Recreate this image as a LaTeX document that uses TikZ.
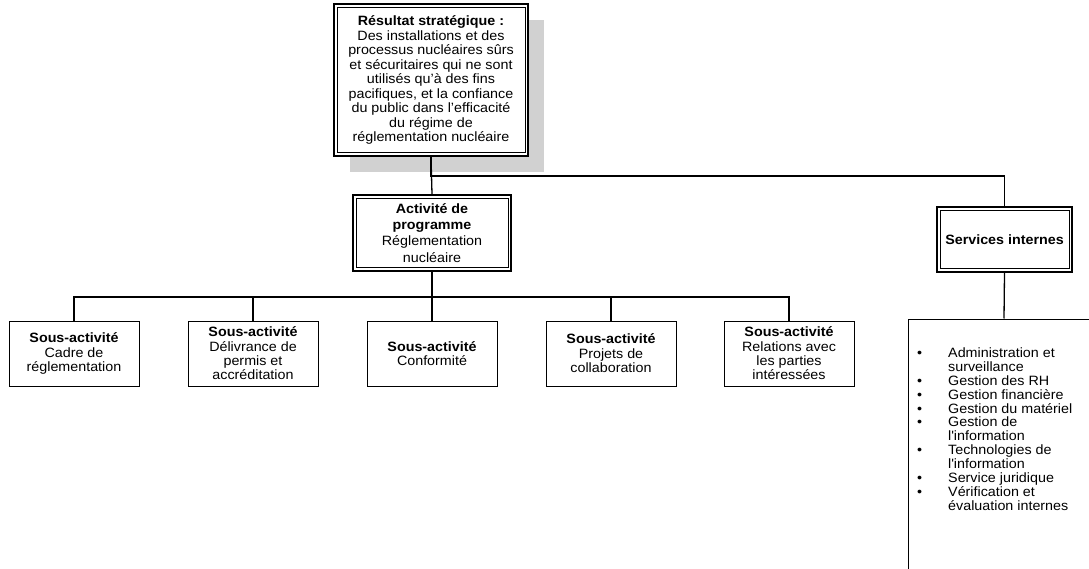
\documentclass[tikz,border=0pt]{standalone}
\usepackage{fontspec}
\setmainfont{Liberation Sans}[FakeStretch=1.06]
\usetikzlibrary{shadows}
\newcommand{\innerframe}[1]{%
  \draw[line width=0.8pt] ([xshift=4pt,yshift=-4pt]#1.north west) rectangle ([xshift=-4pt,yshift=4pt]#1.south east);}
\tikzset{
  conn/.style={draw=black, line width=1.3pt},
  dbl/.style={draw=black, line width=1.8pt, fill=white, inner sep=0pt, align=center,
              font=\fontsize{13.5}{14.5}\selectfont},
  subbox/.style={draw=black, line width=1pt, fill=white, inner sep=0pt, align=center,
                 minimum width=130, minimum height=65, font=\fontsize{13.5}{14.4}\selectfont},
  listbox/.style={draw=black, line width=1pt, inner sep=0pt, minimum width=192, minimum height=300}
}
\begin{document}
\begin{tikzpicture}[x=1pt,y=-1pt]
\useasboundingbox (0,0) rectangle (1089,569);
\clip (0,0) rectangle (1089,569);

% top box with shadow
\node[dbl, minimum width=194, minimum height=152,
      drop shadow={shadow xshift=16pt, shadow yshift=-16pt, fill=black!18, opacity=1}]
  (top) at (431,80) {\textbf{Résultat stratégique :}\\Des installations et des\\processus nucléaires sûrs\\et sécuritaires qui ne sont\\utilisés qu’à des fins\\pacifiques, et la confiance\\du public dans l’efficacité\\du régime de\\réglementation nucléaire};
\innerframe{top}

% programme activity
\node[dbl, minimum width=158, minimum height=76, font=\fontsize{13.5}{16.2}\selectfont]
  (act) at (432,233) {\textbf{Activité de}\\\textbf{programme}\\Réglementation\\nucléaire};
\innerframe{act}

% internal services
\node[dbl, minimum width=135, minimum height=65] (svc) at (1004.5,239.5) {\textbf{Services internes}};
\innerframe{svc}

% sub-activities
\node[subbox] (s1) at (74,353.5)  {\textbf{Sous-activité}\\Cadre de\\réglementation};
\node[subbox] (s2) at (253,353.5) {\textbf{Sous-activité}\\Délivrance de\\permis et\\accréditation};
\node[subbox] (s3) at (432,353.5) {\textbf{Sous-activité}\\Conformité};
\node[subbox] (s4) at (611,353.5) {\textbf{Sous-activité}\\Projets de\\collaboration};
\node[subbox] (s5) at (789,353.5) {\textbf{Sous-activité}\\Relations avec\\les parties\\intéressées};

% list box (extends past the page edge)
\node[listbox] (lst) at (1004,469) {};
\node[anchor=north west, inner sep=0pt, font=\fontsize{13.5}{13.5}\selectfont] (items) at (917,347.5) {%
\begin{tabular}{@{}p{31pt}@{}l@{}}
\textbullet & Administration et\\
 & surveillance\\
\textbullet & Gestion des RH\\
\textbullet & Gestion financière\\
\textbullet & Gestion du matériel\\
\textbullet & Gestion de\\
 & l\textquotesingle information\\
\textbullet & Technologies de\\
 & l\textquotesingle information\\
\textbullet & Service juridique\\
\textbullet & Vérification et\\
 & évaluation internes
\end{tabular}};

% connectors
\draw[conn] (top.south) -- (act.north);
\draw[conn] (top.south) -- ++(0,19) -| (svc.north);
\foreach \i in {1,...,5}
  \draw[conn] (act.south) -- ++(0,25) -| (s\i.north);
\draw[conn] (svc.south) -- (lst.north);
\end{tikzpicture}
\end{document}
